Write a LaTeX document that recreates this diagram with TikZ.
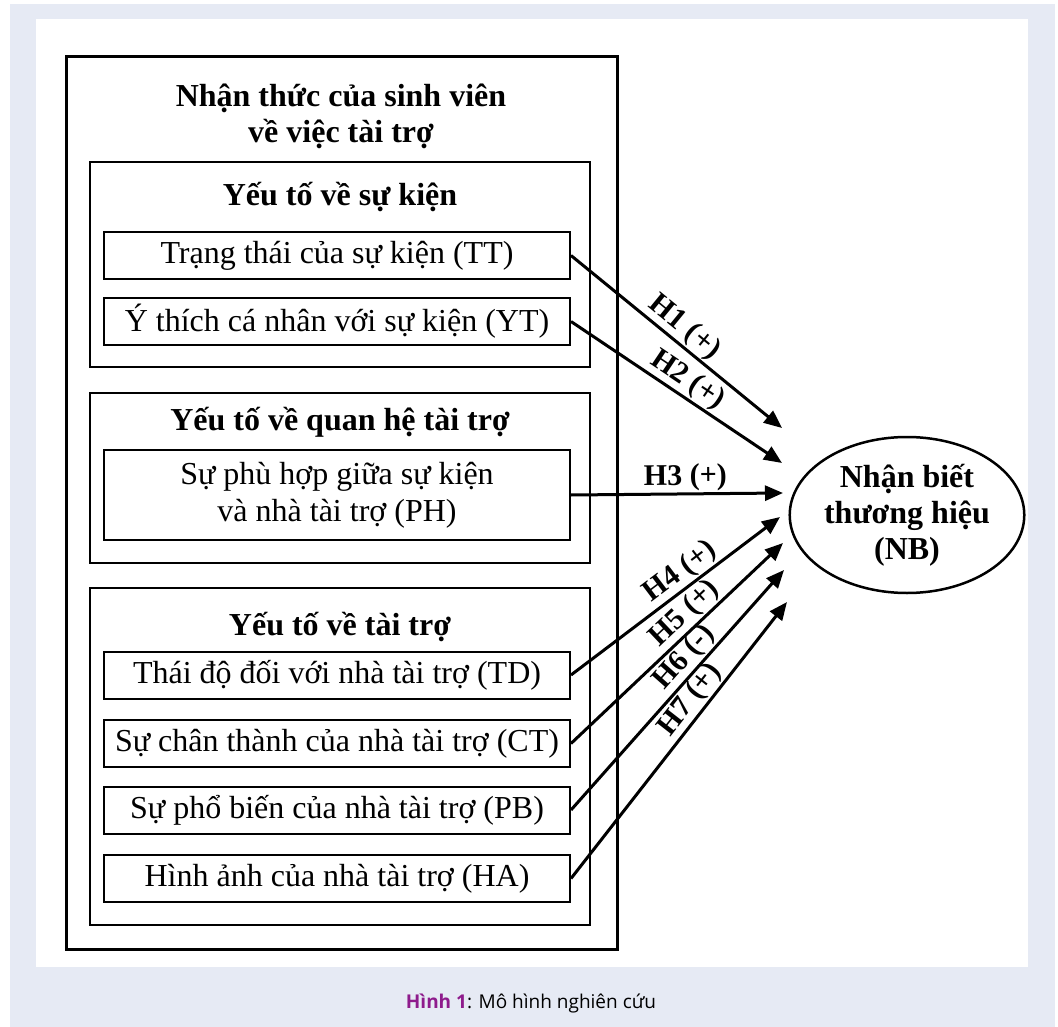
\documentclass[tikz,border=0pt]{standalone}
\usepackage{fontspec}
\setmainfont{Liberation Serif}
\newfontfamily\captionfont{Open Sans}
\usetikzlibrary{arrows.meta, positioning, shapes.geometric}
\definecolor{pagebg}{HTML}{E6EAF4}
\definecolor{figlabel}{HTML}{8E1B8C}

\begin{document}
\begin{tikzpicture}[x=1pt, y=-1pt, >={Triangle[length=18pt,width=15pt]},
		group/.style={rectangle, draw=black, line width=2pt, minimum width=500pt, inner sep=0pt},
		factor/.style={rectangle, draw=black, line width=2pt, minimum width=466pt, minimum height=47pt, inner sep=0pt, align=center, font=\fontsize{32}{37}\selectfont},
		heading/.style={align=center, font=\fontsize{32}{36}\selectfont\bfseries},
		hyp/.style={->, line width=3pt},
		hlabel/.style={sloped, above, inner sep=1pt, font=\fontsize{30}{34}\selectfont\bfseries}]
		
		% Nền
		\fill[white] (0,0) rectangle (1058,1027);
		\fill[pagebg] (10,4) rectangle (1055,1027);
		\fill[white] (36,19) rectangle (1028,967);
		\useasboundingbox (0,0) rectangle (1058,1027);
		
		% Khung ngoài
		\node[draw=black, line width=3pt, minimum width=551pt, minimum height=892pt] (frame) at (341.5,503) {};
		\node[heading] (frame_t) at (341,116) {Nhận thức của sinh viên\\về việc tài trợ};
		
		% Yếu tố về sự kiện
		\node[group, minimum height=205pt] (events) at (340,264.5) {};
		\node[heading] (events_t) at (340,197) {Yếu tố về sự kiện};
		\node[factor] (tt) at (337,255.5) {Trạng thái của sự kiện (TT)};
		\node[factor] (yt) at (337,321.5) {Ý thích cá nhân với sự kiện (YT)};
		
		% Yếu tố về quan hệ tài trợ
		\node[group, minimum height=170pt] (relation) at (340,478) {};
		\node[heading] (relation_t) at (340,422) {Yếu tố về quan hệ tài trợ};
		\node[factor, minimum height=90pt] (ph) at (337,495) {Sự phù hợp giữa sự kiện\\và nhà tài trợ (PH)};
		
		% Yếu tố về tài trợ
		\node[group, minimum height=337pt] (sponsor) at (340,756.5) {};
		\node[heading] (sponsor_t) at (340,627) {Yếu tố về tài trợ};
		\node[factor] (td) at (337,675) {Thái độ đối với nhà tài trợ (TD)};
		\node[factor] (ct) at (337,743.5) {Sự chân thành của nhà tài trợ (CT)};
		\node[factor] (pb) at (337,810) {Sự phổ biến của nhà tài trợ (PB)};
		\node[factor] (ha) at (337,878.5) {Hình ảnh của nhà tài trợ (HA)};
		
		% Nhận biết thương hiệu
		\node[ellipse, draw=black, line width=2.5pt, minimum width=220pt, minimum height=156pt, inner sep=0pt, heading] (nb) at (907,515) {Nhận biết\\thương hiệu\\(NB)};
		
		% Đầu mũi tên
		\coordinate (t1) at (782,428);
		\coordinate (t2) at (782,463);
		\coordinate (t3) at (783,493);
		\coordinate (t4) at (780,517);
		\coordinate (t5) at (783,543);
		\coordinate (t6) at (784,570);
		\coordinate (t7) at (787,602);
		
		% Giả thuyết
		\draw[hyp] (tt.east) -- (t1) node[hlabel, pos=0.49] {H1 (+)};
		\draw[hyp] (yt.east) -- (t2) node[hlabel, pos=0.51] {H2 (+)};
		\draw[hyp] (ph.east) -- (t3) node[hlabel, pos=0.54] {H3 (+)};
		\draw[hyp] (td.east) -- (t4) node[hlabel, pos=0.57] {H4 (+)};
		\draw[hyp] (ct.east) -- (t5) node[hlabel, pos=0.59] {H5 (+)};
		\draw[hyp] (pb.east) -- (t6) node[hlabel, pos=0.59] {H6 (-)};
		\draw[hyp] (ha.east) -- (t7) node[hlabel, pos=0.61] {H7 (+)};
		
		% Chú thích
		\node[font=\captionfont\fontsize{19}{22}\selectfont] (caption) at (531,1003) {\textcolor{figlabel}{\textbf{Hình 1}}: Mô hình nghiên cứu};
	\end{tikzpicture}
\end{document}
